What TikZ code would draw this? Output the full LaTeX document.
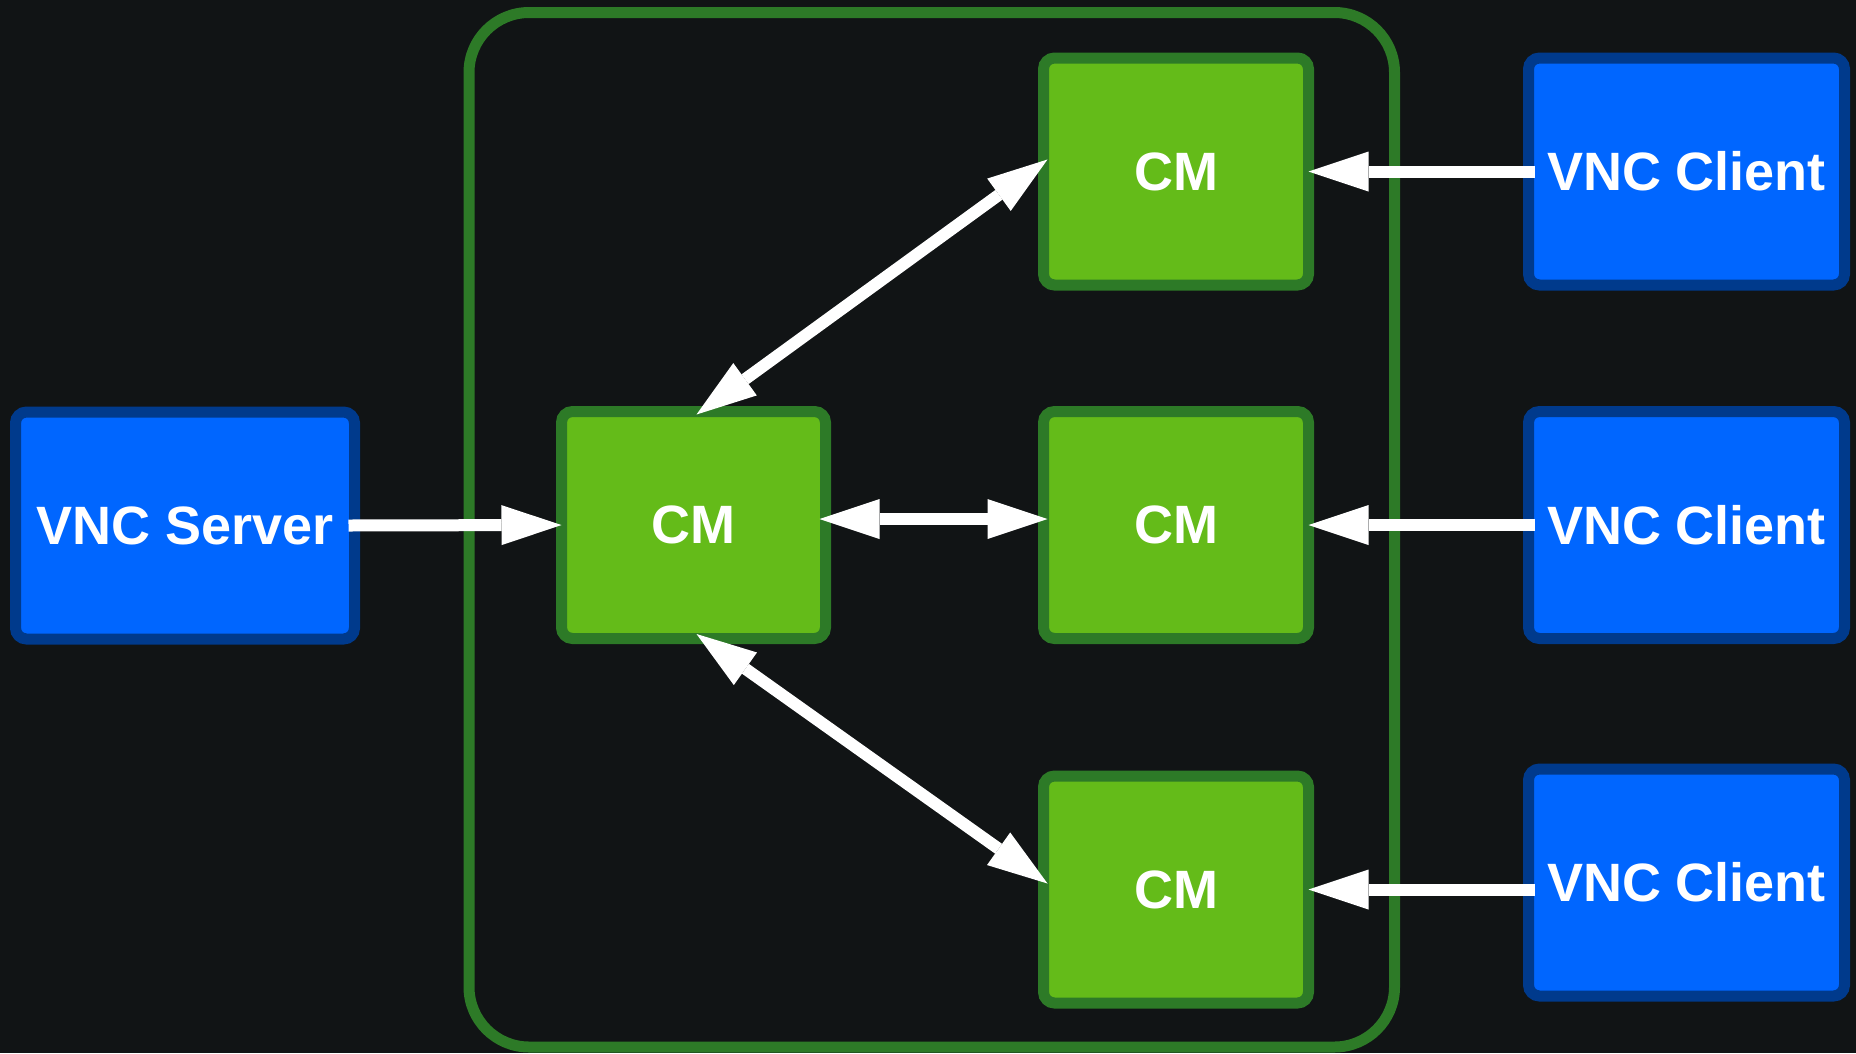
\documentclass[tikz,border=0pt]{standalone}
\usepackage{fontspec}
\setmainfont{Liberation Sans}
\usetikzlibrary{arrows.meta,calc}
\definecolor{bg}{HTML}{111415}
\definecolor{gfill}{HTML}{64BB19}
\definecolor{gline}{HTML}{2D7A27}
\definecolor{bfill}{HTML}{0066FF}
\definecolor{bline}{HTML}{003A8C}
\begin{document}
\begin{tikzpicture}[x=1pt,y=-1pt,
  >={Triangle[length=60pt,width=40pt,line width=0pt]},
  box/.style={rectangle,rounded corners=11pt,line width=11pt,inner sep=0pt,outer sep=0pt,
    text=white,font=\fontsize{54}{60}\selectfont\bfseries},
  cmbox/.style={box,draw=gline,fill=gfill,minimum width=265pt,minimum height=227pt},
  vncbox/.style={box,draw=bline,fill=bfill,minimum height=227pt},
  group/.style={draw=gline,line width=11pt,rounded corners=60pt,inner sep=0pt,outer sep=0pt},
  conn/.style={draw=white,line width=12pt}]
\fill[bg] (0,0) rectangle (1856,1053);
\useasboundingbox (0,0) rectangle (1856,1053);
\node[group,minimum width=925.5pt,minimum height=1034.5pt] (grp) at (931.75,529.75) {};
\node[vncbox,minimum width=339pt] (srv) at (185,525.5) {VNC Server};
\node[cmbox,minimum width=264pt] (cmc) at (693.5,525) {CM};
\node[cmbox] (cmt) at (1176,171.5) {CM};
\node[cmbox] (cmm) at (1176,525) {CM};
\node[cmbox] (cmb) at (1176,889.5) {CM};
\node[vncbox,minimum width=316pt] (clt) at (1686.5,171.5) {VNC Client};
\node[vncbox,minimum width=316pt] (clm) at (1686.5,525) {VNC Client};
\node[vncbox,minimum width=316pt] (clb) at (1686.5,882.5) {VNC Client};
\coordinate (cb) at ($(cmb.east -| clb.west)+(6,0)$);
\draw[conn,->] ($(srv.east)+(-6,0)$) -- (cmc.west);
\draw[conn,->] ($(clt.west)+(6,0)$) -- (cmt.east);
\draw[conn,->] ($(clm.west)+(6,0)$) -- (cmm.east);
\draw[conn,->] (cb) -- (cmb.east);
\draw[conn,<->] ($(cmc.east)+(-6,-6)$) -- ($(cmm.west)+(4,-6)$);
\draw[conn,<->] ($(cmc.north)+(3,3)$) -- ($(cmt.west)+(4,-12)$);
\draw[conn,<->] ($(cmc.south)+(3,-4.5)$) -- ($(cmb.west)+(4,-6)$);
\end{tikzpicture}
\end{document}
